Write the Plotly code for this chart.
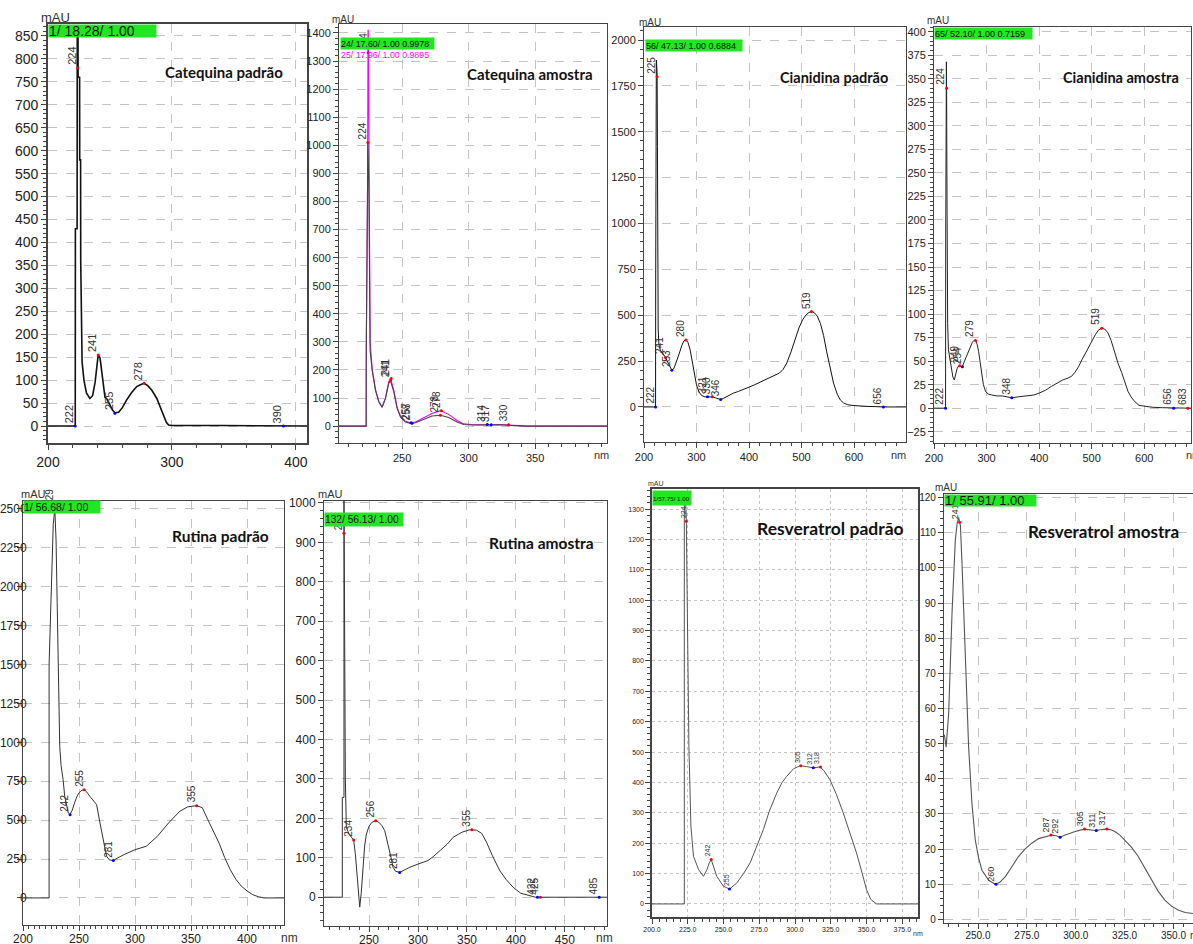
import plotly.graph_objects as go

W, H = 1193, 944

# ---------------- data ----------------
# 1 Catequina padrão
cat_p_wl = [200, 222, 222.1, 223.5, 223.6, 224.2, 224.3, 225.5, 225.6, 226.3, 226.4, 227.5, 229, 231, 233.8, 236, 238, 239.5, 240.5, 242, 244.6, 246, 247.3, 250, 252, 254, 257, 260, 263.5, 267.5, 271.6, 274.5, 277.6, 280.5, 283.8, 287.8, 290.5, 293.2, 295.5, 297.3, 300, 340, 390, 409]
cat_p_ab = [0, 0, 430, 430, 870, 870, 760, 760, 580, 580, 360, 140, 100, 72, 60, 66, 95, 135, 155, 148, 93, 62, 60, 45, 35, 29, 30, 40, 57, 73, 86, 90, 93, 88, 78, 60, 42, 20, 8, 2, 1, 1, 0, 0]
cat_p_pk = [("222", 222, 0, "b"), ("224", 224, 780, "r"), ("241", 240.5, 155, "r"), ("255", 254, 28, "b"), ("278", 277.6, 93, "r"), ("390", 390, 0, "b")]

# 2 Catequina amostra (two spectra)
cat_a1_wl = [202.6, 223, 223.1, 224, 224.3, 225, 225.5, 226, 227.5, 230, 232.5, 235, 237.5, 240, 241.3, 243.8, 246.3, 248.8, 252.5, 256.3, 260, 266.3, 272.5, 278.8, 285, 291.3, 296.3, 303.8, 313.8, 323.8, 333.8, 343.8, 404]
cat_a1_ab = [0, 0, 270, 800, 1010, 870, 480, 270, 200, 128, 87, 67, 99, 152, 162, 122, 63, 33, 15, 10, 12, 24, 36, 39, 31, 15, 6, 4, 5, 5, 2, 0, 0]
cat_a2_wl = [202.6, 223, 223.1, 224, 224.4, 224.6, 225, 225.3, 225.6, 226, 227.5, 230, 232.5, 235, 237.5, 240, 241.3, 243.8, 246.3, 248.8, 252.5, 256.3, 260, 266.3, 272.5, 278.8, 285, 291.3, 296.3, 303.8, 313.8, 323.8, 333.8, 343.8, 404]
cat_a2_ab = [0, 0, 270, 800, 1410, 1410, 1130, 925, 570, 300, 205, 130, 88, 68, 100, 158, 170, 127, 66, 35, 17, 12, 15, 30, 45, 55, 42, 20, 8, 5, 6, 6, 3, 0, 0]
cat_a1_pk = [("224", 224.3, 1010, "r"), ("241", 241.3, 162, "r"), ("258", 257.5, 10, "b"), ("278", 278.8, 39, "r"), ("317", 317, 5, "b"), ("330", 330, 5, "r")]
cat_a2_pk = [("224", 224.5, 1330, "r"), ("241", 241.8, 170, "r"), ("257", 256.8, 12, "b"), ("278", 279.5, 55, "r"), ("314", 314, 6, "b")]

# 3 Cianidina padrão
cian_p_wl = [200, 222, 222.3, 222.8, 223.5, 224.5, 225, 225.6, 226.2, 227, 228.5, 231, 235, 238, 241, 245, 249, 253, 257, 262, 267, 272, 276, 280, 284, 288, 292, 296, 300, 305, 310, 316, 321, 326, 330, 336, 341, 346, 352, 360, 370, 380, 390, 400, 410, 420, 430, 440, 450, 458, 465, 472, 480, 488, 495, 502, 508, 514, 519, 524, 530, 536, 542, 548, 554, 561, 568, 574, 580, 588, 598, 610, 625, 640, 656, 699]
cian_p_ab = [0, 0, 730, 1890, 1890, 1850, 1800, 1420, 750, 420, 340, 310, 295, 285, 270, 245, 220, 200, 210, 245, 290, 335, 360, 365, 350, 310, 250, 180, 120, 80, 62, 55, 55, 55, 55, 50, 45, 40, 48, 60, 75, 85, 95, 108, 120, 133, 148, 160, 172, 185, 205, 240, 300, 370, 430, 475, 500, 515, 520, 515, 495, 455, 390, 300, 220, 130, 70, 38, 22, 12, 8, 5, 3, 2, 0, 0]
cian_p_pk = [("222", 222, 0, "b"), ("225", 225, 1800, "r"), ("241", 241, 270, "r"), ("253", 253, 200, "b"), ("280", 280, 365, "r"), ("321", 321, 55, "b"), ("330", 330, 55, "r"), ("346", 346, 40, "b"), ("519", 519, 520, "r"), ("656", 656, 0, "b")]

# 4 Cianidina amostra
cian_a_wl = [200, 222, 222.3, 223, 223.6, 224, 224.5, 225, 226, 227.5, 230, 233, 236, 238.6, 241, 244, 247, 249, 252, 254, 258, 263, 268, 273, 276, 279, 282, 285, 288, 291, 294, 298, 303, 310, 320, 330, 340, 348, 360, 375, 390, 400, 412, 423, 435, 445, 455, 462, 468, 475, 482, 493, 500, 507, 513, 519, 525, 531, 537, 543, 550, 557, 563, 569, 575, 582, 590, 600, 615, 635, 656, 683, 689]
cian_a_ab = [0, 0, 185, 368, 368, 340, 255, 150, 90, 62, 52, 42, 33, 30, 36, 42, 45, 45, 44, 44, 50, 57, 64, 70, 72, 72, 68, 60, 48, 35, 25, 18, 15, 14, 13, 13, 12, 11, 12, 13, 14, 16, 19, 23, 27, 30, 32, 34, 38, 44, 52, 64, 72, 78, 83, 85, 84, 80, 72, 60, 48, 38, 28, 18, 12, 7, 3, 2, 1, 0.5, 0, 0, 0]
cian_a_pk = [("222", 222, 0, "b"), ("224", 224, 340, "r"), ("249", 249, 45, "r"), ("254", 254, 44, "b"), ("279", 279, 72, "r"), ("348", 348, 11, "b"), ("519", 519, 85, "r"), ("656", 656, 0, "b"), ("683", 683, 0, "r")]

# 5 Rutina padrão
rut_p_wl = [200, 223.3, 223.3, 224, 225, 226, 227, 228.4, 229.5, 230.5, 231.3, 232, 232.8, 234, 235.8, 237.3, 239, 240.5, 242, 244, 246, 248, 250, 252, 254.6, 257, 260, 263, 265.7, 268.7, 271, 274.6, 277, 280.6, 284, 290, 300, 310, 320, 330, 340, 347, 355, 360, 365, 370, 375, 380, 385, 390, 395, 400, 405, 410, 415, 433]
rut_p_ab = [0, 0, 1500, 1700, 1950, 2200, 2400, 2500, 2300, 1900, 1490, 1200, 975, 850, 760, 650, 580, 545, 535, 565, 610, 650, 675, 690, 696, 680, 650, 620, 600, 482, 390, 268, 245, 240, 255, 278, 310, 332, 396, 482, 557, 585, 593, 580, 503, 430, 353, 260, 182, 120, 75, 45, 21, 8, 0, 0]
rut_p_pk = [("229", 228.4, 2500, "r"), ("242", 242, 535, "b"), ("255", 254.6, 696, "r"), ("281", 280.6, 240, "b"), ("355", 355, 593, "r")]

# 6 Rutina amostra
rut_a_wl = [204, 222.7, 222.7, 224.4, 224.4, 225, 225.8, 226.8, 229.6, 232, 234.3, 236, 237.5, 239, 240.5, 242, 243.9, 245.5, 247.3, 250, 253, 256.8, 260, 263, 266, 268, 270.4, 272.5, 274.5, 277, 281.3, 285, 291.6, 300, 310.3, 316, 322.2, 330, 335.9, 345, 352.9, 359.7, 365, 369.9, 376, 383.6, 390, 397.2, 405, 414.2, 420, 493]
rut_a_ab = [0, 0, 253, 253, 1010, 700, 300, 177, 160, 152, 145, 110, 60, 10, -25, 10, 84, 130, 160, 180, 190, 194, 190, 182, 169, 150, 127, 100, 76, 66, 63, 68, 76, 84, 93, 104, 118, 135, 152, 165, 171, 170, 162, 140, 105, 67, 45, 25, 10, 3, 0, 0]
rut_a_pk = [("224", 224.4, 923, "r"), ("234", 234.3, 145, "r"), ("256", 256.8, 194, "r"), ("281", 281.3, 63, "b"), ("355", 355, 171, "r"), ("422", 422, 0, "b"), ("425", 425, 0, "r"), ("485", 485, 0, "b")]

# 7 Resveratrol padrão
res_p_wl = [200, 222.6, 222.6, 223.5, 224, 224.9, 225.8, 227.2, 229, 232.6, 236, 238.4, 240, 241.4, 243, 245.3, 250, 254.2, 259.3, 264, 268.6, 273, 277.9, 282, 287.2, 291, 294.2, 299, 303.5, 308, 312.8, 317.4, 320, 324.4, 329, 333.7, 338, 343, 347, 350, 353, 357, 386]
res_p_ab = [0, 0, 1330, 1330, 1260, 958, 519, 256, 157, 113, 91, 113, 135, 146, 120, 91, 58, 49, 69, 100, 135, 190, 245, 305, 365, 400, 420, 445, 455, 452, 448, 451, 440, 409, 360, 300, 240, 168, 100, 47, 15, 0, 0]
res_p_pk = [("224", 224, 1260, "r"), ("242", 241.4, 146, "r"), ("255", 254.2, 49, "b"), ("305", 304, 455, "r"), ("312", 312.8, 448, "b"), ("318", 317.8, 451, "r")]

# 8 Resveratrol amostra
res_a_wl = [232.8, 233.7, 235, 236.7, 238.4, 239.3, 240.1, 241, 241.8, 243.5, 245.2, 246.9, 248.6, 250.3, 252, 255.4, 258.8, 261, 264, 267.3, 270.7, 274, 277.5, 281, 284.4, 287.8, 290, 292, 294.6, 297, 299.7, 304.3, 307, 309.9, 312.7, 315.5, 318, 320, 322.6, 325.2, 328.6, 332, 335.4, 338.8, 342.2, 345.6, 349, 352.4, 356, 360]
res_a_ab = [52.5, 49, 58.7, 87, 108, 112.5, 114.3, 112, 101.5, 77.7, 49, 33, 22.6, 17.5, 14, 11.2, 10, 10.5, 12.2, 15, 17.9, 20, 21.7, 23, 23.6, 24, 23.8, 23.4, 24, 24.5, 25, 25.7, 25.5, 25.3, 25.5, 25.7, 25.5, 25, 24, 22.6, 20.5, 17.9, 14.5, 11.2, 8, 5.5, 3.8, 2.7, 2, 1.7]
res_a_pk = [("241", 240.6, 113, "r"), ("260", 259.2, 10, "b"), ("287", 287.3, 24, "r"), ("292", 292, 23.4, "b"), ("305", 304.5, 25.7, "r"), ("311", 310.5, 25.3, "b"), ("317", 316, 25.7, "r")]

titles = ["Catequina padrão", "Catequina amostra", "Cianidina padrão", "Cianidina amostra",
          "Rutina padrão", "Rutina amostra", "Resveratrol padrão", "Resveratrol amostra"]
info_labels = ["1/ 18.28/ 1.00", "24/ 17.60/ 1.00 0.9978", "56/ 47.13/ 1.00 0.6884", "65/ 52.10/ 1.00 0.7159",
               "1/ 56.68/ 1.00", "132/ 56.13/ 1.00", "1/57.75/ 1.00", "1/ 55.91/ 1.00"]
info_label_2 = "25/ 17.96/ 1.00 0.9895"

# ---------------- layout / style of each panel ----------------
panels = [
    dict(series=[(cat_p_wl, cat_p_ab, "#111", 1.6)], peaks=[cat_p_pk], box=(48, 307, 24, 443),
         xr=[200, 409], yr=[-37, 876], xd=100, xm=20, yd=50, ym=10, fs=14, xfmt="", lw=1.6, xtv=None,
         ystand=0, xstand=0, title_pos=(224, 72), title_fs=15, mau=(55, 18, 13), nm=None,
         info=(48, 24, 107, 12, 14), pkfs=11, dash="dash"),
    dict(series=[(cat_a2_wl, cat_a2_ab, "#ff00ff", 1.1), (cat_a1_wl, cat_a1_ab, "#444", 1.1)],
         peaks=[cat_a2_pk, cat_a1_pk], box=(339, 607, 24, 443),
         xr=[202.6, 404], yr=[-60, 1432], xd=50, xm=10, yd=100, ym=20, fs=11, xfmt="", lw=1,
         xtv=[250, 300, 350], ystand=0, xstand=0,
         title_pos=(530, 74), title_fs=15, mau=(343, 20, 10), nm=(592, 455),
         info=(340, 37, 93, 11, 8.8), pkfs=10, dash="dash"),
    dict(series=[(cian_p_wl, cian_p_ab, "#111", 1)], peaks=[cian_p_pk], box=(644, 906, 27, 442),
         xr=[200, 699], yr=[-191, 2071], xd=100, xm=20, yd=250, ym=50, fs=11, xfmt="", lw=1, xtv=None,
         ystand=0, xstand=0, title_pos=(834, 77), title_fs=14.5, mau=(650, 22, 10), nm=(889, 455),
         info=(645, 39, 96, 11, 9), pkfs=10, dash="dash"),
    dict(series=[(cian_a_wl, cian_a_ab, "#222", 1)], peaks=[cian_a_pk], box=(934, 1191, 27, 443),
         xr=[200, 689], yr=[-37, 405], xd=100, xm=20, yd=25, ym=5, fs=11, xfmt="", lw=1, xtv=None,
         ystand=0, xstand=0, title_pos=(1121, 77), title_fs=14.5, mau=(938, 21, 10), nm=(1184, 455),
         info=(934, 27, 97, 11, 9), pkfs=10, dash="dash"),
    dict(series=[(rut_p_wl, rut_p_ab, "#333", 1)], peaks=[rut_p_pk], box=(23, 284, 501, 925),
         xr=[200, 433], yr=[-174, 2551], xd=50, xm=5, yd=250, ym=None, fs=12, xfmt="", lw=1, xtv=None,
         ystand=-12, xstand=-2, title_pos=(220, 536), title_fs=15.5, mau=(33, 494, 11), nm=(279, 938),
         info=(23, 500, 76, 12, 10.5), pkfs=10, dash="dash"),
    dict(series=[(rut_a_wl, rut_a_ab, "#333", 1)], peaks=[rut_a_pk], box=(324, 607, 501, 926),
         xr=[204, 493], yr=[-73, 1005], xd=50, xm=10, yd=100, ym=20, fs=12, xfmt="", lw=1, xtv=None,
         ystand=0, xstand=-2, title_pos=(541, 543), title_fs=15.5, mau=(330, 494, 11), nm=(594, 938),
         info=(324, 512, 78, 13, 10.2), pkfs=10, dash="dash"),
    dict(series=[(res_p_wl, res_p_ab, "#555", 1)], peaks=[res_p_pk], box=(652, 918, 489, 917),
         xr=[200, 386], yr=[-43, 1366], xd=25, xm=5, yd=100, ym=20, fs=7, xfmt=".1f", lw=1.5, xtv=None,
         ystand=0, xstand=0, title_pos=(830, 528), title_fs=17.5, mau=(656, 483, 7), nm=(911, 933),
         info=(652, 490, 38, 14, 6.2), pkfs=7, dash="dot"),
    dict(series=[(res_a_wl, res_a_ab, "#555", 1.1)], peaks=[res_a_pk], box=(944, 1193, 494, 923),
         xr=[232.6, 360], yr=[-1, 121], xd=25, xm=5, yd=10, ym=2, fs=10, xfmt=".1f", lw=1.2, xtv=None,
         ystand=0, xstand=-2, title_pos=(1103, 531), title_fs=17, mau=(946, 487, 10), nm=(1188, 935),
         info=(944, 494, 91, 11, 13), pkfs=9, dash="dash"),
]

fig = go.Figure()
ann = []
layout = {}
GREEN = "#22e622"


def fx(p):
    return p / W


def fy(p):
    return 1 - p / H


for i, p in enumerate(panels, start=1):
    xa = "x" if i == 1 else f"x{i}"
    ya = "y" if i == 1 else f"y{i}"
    xk = "xaxis" if i == 1 else f"xaxis{i}"
    yk = "yaxis" if i == 1 else f"yaxis{i}"
    for wl, ab, col, w in p["series"]:
        fig.add_trace(go.Scatter(x=wl, y=ab, mode="lines", line=dict(color=col, width=w),
                                 xaxis=xa, yaxis=ya, hoverinfo="skip", showlegend=False))
    mx, my, mc = [], [], []
    for pk in p["peaks"]:
        for txt, x, y, c in pk:
            mx.append(x)
            my.append(y)
            mc.append("#ff0000" if c == "r" else "#0000ff")
            ann.append(dict(text=txt, x=x, y=y, xref=xa, yref=ya, showarrow=False, textangle=-90,
                            xanchor="right", yanchor="bottom", xshift=2, yshift=1,
                            font=dict(family="Liberation Sans, Arial", size=p["pkfs"], color="#333")))
    fig.add_trace(go.Scatter(x=mx, y=my, mode="markers", marker=dict(color=mc, size=3),
                             xaxis=xa, yaxis=ya, hoverinfo="skip", showlegend=False, cliponaxis=False))
    l, r, t, b = p["box"]
    tickfont = dict(family="Liberation Sans, Arial", size=p["fs"], color="#222")
    xminor = dict(dtick=p["xm"], ticks="outside", ticklen=3, tickcolor="#444", showgrid=False)
    xax = dict(domain=[fx(l), fx(r)], range=p["xr"], anchor=ya, dtick=p["xd"], tick0=200,
               showgrid=True, gridcolor="#c4c4c4", griddash=p["dash"], gridwidth=1, automargin=False,
               zeroline=False, showline=True, mirror=True, linecolor="#444", linewidth=p["lw"],
               ticks="outside", ticklen=5, tickcolor="#444", tickfont=tickfont,
               tickformat=p["xfmt"], minor=xminor, ticklabelstandoff=p["xstand"])
    if p["xtv"]:
        xax["tickmode"] = "array"
        xax["tickvals"] = p["xtv"]
    layout[xk] = xax
    yminor = dict(dtick=p["ym"], ticks="outside", ticklen=3, tickcolor="#444", showgrid=False) if p["ym"] else dict(ticks="")
    layout[yk] = dict(domain=[fy(b), fy(t)], range=p["yr"], anchor=xa, dtick=p["yd"], tick0=0,
                      showgrid=True, gridcolor="#c4c4c4", griddash=p["dash"], gridwidth=1, automargin=False,
                      zeroline=False, showline=True, mirror=True, linecolor="#444", linewidth=p["lw"],
                      ticks="outside", ticklen=5, tickcolor="#444", tickfont=tickfont, minor=yminor,
                      ticklabelstandoff=p["ystand"])
    # title
    tx, ty = p["title_pos"]
    ann.append(dict(text="<b>" + titles[i - 1] + "</b>", x=fx(tx), y=fy(ty), xref="paper", yref="paper",
                    showarrow=False, xanchor="center", yanchor="middle",
                    font=dict(family="Lato", size=p["title_fs"], color="#111")))
    # mAU
    mxp, myp, mfs = p["mau"]
    ann.append(dict(text="mAU", x=fx(mxp), y=fy(myp), xref="paper", yref="paper", showarrow=False,
                    xanchor="center", yanchor="middle",
                    font=dict(family="Liberation Sans, Arial", size=mfs, color="#333")))
    if p["nm"]:
        ann.append(dict(text="nm", x=fx(p["nm"][0]), y=fy(p["nm"][1]), xref="paper", yref="paper",
                        showarrow=False, xanchor="left", yanchor="middle",
                        font=dict(family="Liberation Sans, Arial", size=p["fs"], color="#333")))
    # green info box
    ix, iy, iw, ih, ifs = p["info"]
    ann.append(dict(text=info_labels[i - 1], x=fx(ix), y=fy(iy), xref="paper", yref="paper",
                    showarrow=False, xanchor="left", yanchor="top", width=iw, height=ih, align="left",
                    bgcolor=GREEN, borderpad=0,
                    font=dict(family="Liberation Sans, Arial", size=ifs, color="#111")))
    if i == 2:
        ann.append(dict(text=info_label_2, x=fx(ix), y=fy(iy + ih), xref="paper", yref="paper",
                        showarrow=False, xanchor="left", yanchor="top", width=iw, height=ih, align="left",
                        borderpad=0, font=dict(family="Liberation Sans, Arial", size=ifs, color="#ff00ff")))

fig.update_layout(width=W, height=H, margin=dict(l=0, r=0, t=0, b=0, autoexpand=False), paper_bgcolor="white",
                  plot_bgcolor="white", showlegend=False, annotations=ann, **layout)
fig.write_html("out.html", config={"displayModeBar": False},
               post_script="document.body.style.margin='0';document.body.style.overflow='hidden';")
